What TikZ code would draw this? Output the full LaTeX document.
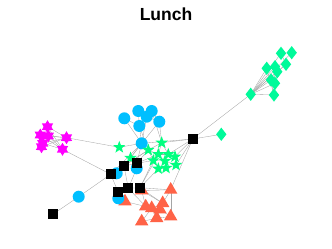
\documentclass[tikz,border=0pt]{standalone}
\usepackage{fontspec}
\setmainfont{Liberation Sans}
\usetikzlibrary{shapes.geometric}
\definecolor{cblue}{RGB}{0,191,255}
\definecolor{cgreen}{RGB}{0,255,127}
\definecolor{cdia}{RGB}{0,250,154}
\definecolor{cmag}{RGB}{255,0,255}
\definecolor{ctri}{RGB}{255,99,71}
\definecolor{cedge}{RGB}{165,165,165}
\tikzset{
  vb/.style={circle,fill=cblue,inner sep=0pt,minimum size=12pt},
  vs/.style={rectangle,fill=black,inner sep=0pt,minimum size=9.8pt},
  vt/.style={regular polygon,regular polygon sides=3,fill=ctri,inner sep=0pt,minimum size=15.5pt},
  vd/.style={diamond,fill=cdia,inner sep=0pt,minimum width=10.5pt,minimum height=13.5pt},
  ed/.style={draw=cedge,line width=0.35pt},
}
\begin{document}
\begin{tikzpicture}[x=1pt,y=-1pt]
\useasboundingbox (0,0) rectangle (332,249);
\node[font=\bfseries\fontsize{17.5}{20}\selectfont,anchor=base] (title) at (166,20.7) {Lunch};
% coordinates of vertices
\foreach \n/\x/\y in {d1/291.7/52.7,d2/281/53.3,d3/286/64.3,d4/266.7/68.3,d5/275/66.7,d6/277.3/71.7,d7/271/80,d8/275/83.3,d9/250.7/94.3,d10/274/95,d11/221.3/134.3,
 m1/47.5/126.7,m2/40.3/135,m3/48.3/136,m4/66.5/137.7,m5/42.7/143.3,m6/41.5/146.7,m7/62.5/149.3,
 b1/124.3/118.3,b2/138.3/111,b3/151.7/111,b4/146.7/116.7,b5/159.3/121.7,b6/139.3/126,b7/141.7/143.3,b8/136.7/168.3,b9/116.7/173.3,b10/78.7/196.7,b11/118.3/198.3,
 g1/119.3/147.3,g2/161.7/142.7,g3/148.3/150,g4/158.3/154.3,g5/168.3/154.3,g6/175/156.7,g7/153.3/160.5,g8/165/161,g9/176/165,g10/158.3/168.7,g11/166/168,g12/130.5/158,
 s1/192.7/139,s2/124/166,s3/136.7/163.3,s4/110.7/174.3,s5/128.3/188.3,s6/140/187.7,s7/118.3/192.3,s8/53.3/214,
 t1/170.7/189.8,t2/141.7/190.5,t3/125/201.5,t4/145.7/206.5,t5/162.7/203.2,t6/151.7/208.2,t7/160/209.5,t8/141.7/221.5,t9/156.7/218.2,t10/170.7/216.5}
 {\coordinate (\n) at (\x,\y);}
% edges
\foreach \a/\b in {d9/d1,d9/d2,d9/d3,d9/d4,d9/d5,d9/d6,d9/d7,d9/d8,d9/d10,d10/d4,d10/d5,d10/d6,d10/d7,d7/d8,d1/d2,d2/d3,d4/d5,d3/d6,d9/s1,s1/d11,
 m1/m3,m2/m3,m3/m4,m1/m4,m2/m4,m5/m4,m6/m4,m3/m7,m2/m7,m5/m7,m1/m7,m6/m3,
 m4/g1,g1/b7,m7/s4,b7/s1,g2/s1,g5/s1,g6/s1,t1/s1,g9/s1,
 s8/b10,b10/s4,s4/s2,s4/b9,s4/s7,s4/b7,s4/g3,
 b1/b6,b2/b4,b3/b4,b4/b5,b4/b6,b2/b6,b3/b5,b6/b7,b5/b7,b4/b7,b3/g2,b5/g2,b6/g3,b1/b7,
 g2/g3,g2/g4,g3/g4,g4/g5,g5/g6,g4/g7,g7/g8,g8/g9,g6/g9,g7/g10,g10/g11,g8/g11,g3/g7,g2/g5,g4/g8,g5/g8,g9/g11,
 s3/g3,s3/g7,s3/g4,s2/g3,s2/b7,s3/b7,g12/b7,g12/s3,s2/s3,
 t1/t5,t1/t10,t1/t2,t2/t4,t3/t4,t4/t6,t5/t6,t5/t9,t6/t8,t6/t9,t8/t9,t9/t10,t3/s7,t2/s6,s6/s5,s5/s7,s6/g7,s6/g10,s6/t1,t2/t5,s5/t4,s7/b11,s5/b8,s6/t5,t7/t10,t4/t7,s6/g4,s5/s2,b8/s3}
 {\draw[ed] (\a) -- (\b);}
% vertices
\foreach \n in {d1,d2,d3,d4,d5,d6,d7,d8,d9,d10,d11} {\node[vd] at (\n) {};}
\foreach \n in {m1,m2,m3,m4,m5,m6,m7} {
  \fill[cmag] ([shift={(-90:6.5)}]\n) \foreach \k in {0,...,5} { -- ([shift={(-60+60*\k:3.9)}]\n) -- ([shift={(-30+60*\k:6.5)}]\n)} -- cycle;}
\foreach \n in {t1,t2,t3,t4,t5,t6,t7,t8,t9,t10} {\node[vt] at (\n) {};}
\foreach \n in {b1,b2,b3,b4,b5,b6,b7,b8,b9,b10,b11} {\node[vb] at (\n) {};}
\foreach \n in {g1,g2,g3,g4,g5,g6,g7,g8,g9,g10,g11,g12} {
  \fill[cgreen] ([shift={(-90:6.5)}]\n) \foreach \k in {0,...,4} { -- ([shift={(-54+72*\k:2.7)}]\n) -- ([shift={(-18+72*\k:6.5)}]\n)} -- cycle;}
\foreach \n in {s1,s2,s3,s4,s5,s6,s7,s8} {\node[vs] at (\n) {};}
\end{tikzpicture}
\end{document}
